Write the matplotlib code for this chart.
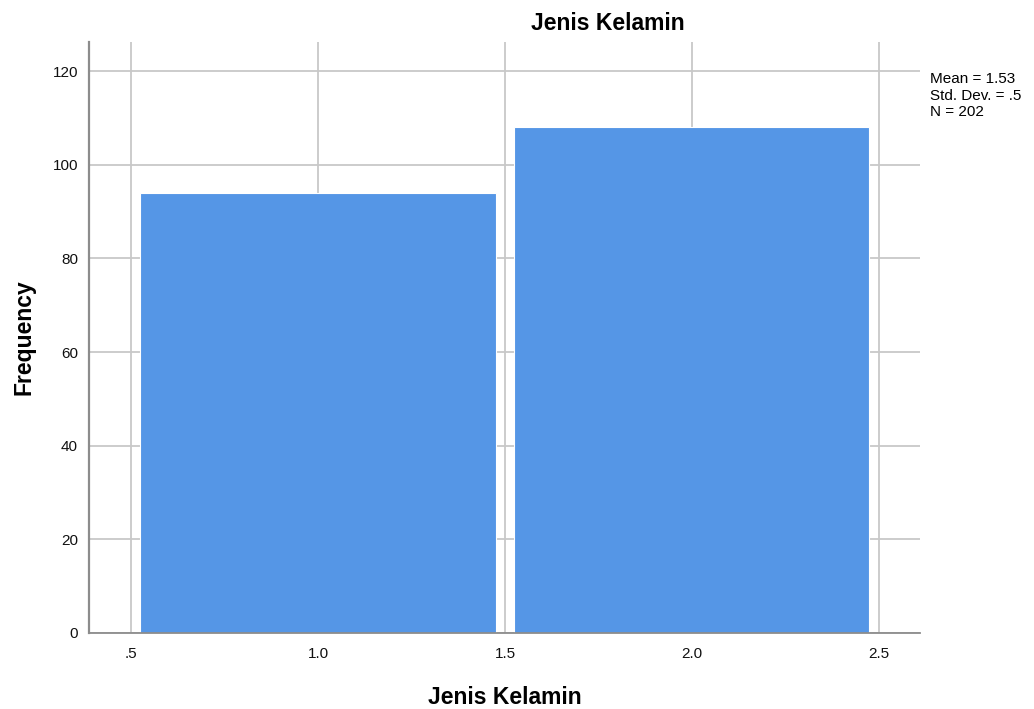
import matplotlib

matplotlib.use("Agg")
import matplotlib.pyplot as plt

plt.rcParams["font.family"] = ["Liberation Sans", "DejaVu Sans"]

# data
categories = [1.0, 2.0]
freqs = [94, 108]
xticks = [0.5, 1.0, 1.5, 2.0, 2.5]
xticklabels = [".5", "1.0", "1.5", "2.0", "2.5"]
yticks = [0, 20, 40, 60, 80, 100, 120]
stats_text = "Mean = 1.53\nStd. Dev. = .5\nN = 202"

fig = plt.figure(figsize=(10.34, 7.09), dpi=100)
ax = fig.add_axes([0.0861, 0.1072, 0.8036, 0.8336])

ax.bar(categories, freqs, width=0.95, color="#5596e6", edgecolor="white",
       linewidth=0.8, zorder=2)

ax.set_xlim(0.3875, 2.61)
ax.set_ylim(0, 126.2)
ax.set_xticks(xticks)
ax.set_xticklabels(xticklabels)
ax.set_yticks(yticks)
ax.tick_params(length=0, labelsize=11, pad=10, colors="#111111")
ax.tick_params(axis="y", pad=8)
ax.grid(True, color="#c8c8c8", lw=1.3, zorder=0)

for s in ("top", "right"):
    ax.spines[s].set_visible(False)
ax.spines["left"].set_color("#8c8c8c")
ax.spines["left"].set_linewidth(1.6)
ax.spines["bottom"].set_color("#8c8c8c")
ax.spines["bottom"].set_linewidth(1.3)

ax.set_xlabel("Jenis Kelamin", fontsize=16.5, fontweight="bold", labelpad=18)
ax.set_ylabel("Frequency", fontsize=16.5, fontweight="bold", labelpad=12)
fig.text(0.588, 0.967, "Jenis Kelamin", fontsize=16.5, fontweight="bold",
         ha="center", va="center")
fig.text(0.899, 0.898, stats_text, fontsize=11, ha="left", va="top",
         linespacing=1.2)

fig.savefig("out.png", dpi=100)
